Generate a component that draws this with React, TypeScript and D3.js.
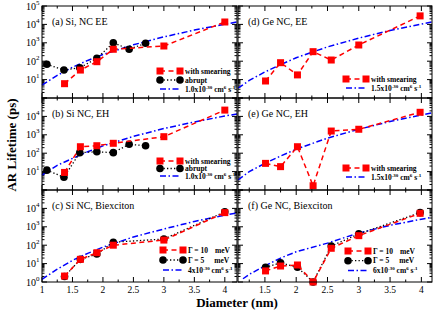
import React from 'react';
import * as d3 from 'd3';

const W = 436;
const H = 312;

// diameters (nm)
const siX = [1.37, 1.63, 1.9, 2.17, 3.0, 4.0];
const siAbruptX = [1.08, 1.36, 1.62, 1.9, 2.17, 2.43, 2.7];
const geX = [1.51, 1.75, 2.02, 2.27, 2.56, 3.0, 3.98];
const siFitX = [1, 1.25, 1.5, 1.75, 2, 2.5, 3, 3.5, 4, 4.2];
const geFitX = [1.07, 1.25, 1.5, 1.75, 2, 2.5, 3, 3.5, 4, 4.17];
const geBxFitX = [1.15, 1.25, 1.5, 1.75, 2, 2.5, 3, 3.5, 4, 4.17];

// AR lifetimes (ps)
const siEESmear = [6, 33, 94, 445, 670, 13500];
const siEEAbrupt = [68, 33, 44, 143, 1000, 445, 940];
const siEEFit = [5, 17, 47, 110, 230, 780, 2100, 4900, 10200, 13500];

const siEHSmear = [9, 225, 255, 345, 790, 22000];
const siEHAbrupt = [12, 4.9, 107, 120, 107, 305, 255];
const siEHFit = [6.5, 22, 52, 120, 250, 820, 2200, 5000, 10500, 13500];

const siBxG10 = [2.1, 17, 39, 100, 190, 5900];
const siBxG5 = [2, 17, 33, 144, 218, 6500];
const siBxFit = [1.4, 5, 15, 36, 78, 280, 760, 1950, 4300, 5600];

const geEESmear = [8.4, 83, 18, 330, 116, 760, 29000];
const geEEFit = [3.4, 9, 26, 65, 155, 600, 1800, 4700, 10500, 13500];

const geEHSmear = [28, 18.6, 225, 1.7, 1600, 2000, 16700];
const geEHFit = [3.5, 10, 28, 70, 166, 660, 2000, 5300, 12000, 15500];

const geBxG10 = [4, 7.4, 8.4, 1.0, 68, 330, 5400];
const geBxG5 = [6.3, 11, 6.3, 1.0, 90, 410, 5900];
const geBxFit = [1.5, 2.6, 7.5, 20, 44, 130, 460, 1200, 2600, 3300];

const leftTicks = [1, 1.5, 2, 2.5, 3, 3.5, 4];
const rightTicks = [1.5, 2, 2.5, 3, 3.5, 4];

const RED = '#ff0000';
const BLUE = '#0000ff';
const FONT = '"Liberation Serif", "DejaVu Serif", serif';

type Series = { kind: 'smear' | 'abrupt' | 'fit'; x: number[]; y: number[] };
type LegendRow = { kind: 'smear' | 'abrupt' | 'fit'; label: React.ReactNode };

const fitLabel = (c: string) => (
  <>
    {c}x10<tspan dy={-3} fontSize={5}>-30</tspan>
    <tspan dy={3}> cm</tspan>
    <tspan dy={-3} fontSize={5}>6</tspan>
    <tspan dy={3}> s</tspan>
    <tspan dy={-3} fontSize={5}>-1</tspan>
  </>
);

const gammaLabel = (g: string) => (
  <>
    Γ = {g}
    <tspan dx={g.length > 1 ? 7 : 10}>meV</tspan>
  </>
);

function Marker({ kind, x, y }: { kind: string; x: number; y: number }) {
  if (kind === 'smear') return <rect x={x - 3.5} y={y - 3.5} width={7} height={7} fill={RED} />;
  if (kind === 'abrupt') return <circle cx={x} cy={y} r={3.8} fill="#000" />;
  return null;
}

const strokeFor = (kind: string) =>
  kind === 'smear'
    ? { stroke: RED, strokeWidth: 1.5, strokeDasharray: '5,3.5' }
    : kind === 'abrupt'
    ? { stroke: '#000', strokeWidth: 1.3, strokeDasharray: '1.3,2.2' }
    : { stroke: BLUE, strokeWidth: 1.5, strokeDasharray: '6,2.5,1.5,2.5' };

function Panel(props: {
  x0: number; x1: number; y0: number; y1: number;
  xDomain: [number, number]; xTicks: number[]; showXLabels: boolean;
  yLabels: number[]; title: string; series: Series[];
  legend: LegendRow[]; legX: number; legY: number; legDy: number;
}) {
  const { x0, x1, y0, y1, xDomain, xTicks, showXLabels, yLabels, title, series, legend, legX, legY, legDy } = props;
  const x = d3.scaleLinear().domain(xDomain).range([x0, x1]);
  const y = d3.scaleLog().domain([1, 1e5]).range([y1, y0]);
  const minor: number[] = [];
  for (let k = 0; k < 5; k++) for (let m = 2; m <= 9; m++) minor.push(m * Math.pow(10, k));
  const xMinor: number[] = [];
  for (let v = 1; v <= xDomain[1] + 1e-9; v += 0.25) if (v >= xDomain[0]) xMinor.push(v);
  const line = d3.line<number>();
  const order = ['fit', 'abrupt', 'smear'];
  const sorted = [...series].sort((a, b) => order.indexOf(a.kind) - order.indexOf(b.kind));

  return (
    <g>
      {/* y ticks, both sides inward */}
      {[0, 1, 2, 3, 4, 5].map((k) => (
        <g key={'M' + k}>
          <line x1={x0} x2={x0 + 5} y1={y(Math.pow(10, k))} y2={y(Math.pow(10, k))} stroke="#000" />
          <line x1={x1} x2={x1 - 5} y1={y(Math.pow(10, k))} y2={y(Math.pow(10, k))} stroke="#000" />
        </g>
      ))}
      {minor.map((v, i) => (
        <g key={'m' + i}>
          <line x1={x0} x2={x0 + 2.5} y1={y(v)} y2={y(v)} stroke="#000" />
          <line x1={x1} x2={x1 - 2.5} y1={y(v)} y2={y(v)} stroke="#000" />
        </g>
      ))}
      {/* x ticks, top and bottom inward */}
      {xMinor.map((v, i) => {
        const major = Math.abs(v * 2 - Math.round(v * 2)) < 1e-6;
        const len = major ? 5 : 2.5;
        return (
          <g key={'x' + i}>
            <line x1={x(v)} x2={x(v)} y1={y1} y2={y1 - len} stroke="#000" />
            <line x1={x(v)} x2={x(v)} y1={y0} y2={y0 + len} stroke="#000" />
          </g>
        );
      })}
      {showXLabels &&
        xTicks.map((v) => (
          <text key={'xl' + v} x={x(v)} y={y1 + 11} textAnchor="middle" fontSize={9.5} fontFamily={FONT}>
            {v}
          </text>
        ))}
      {yLabels.map((k) => (
        <text key={'yl' + k} x={x0 - 2.5} y={y(Math.pow(10, k)) + 3.5} textAnchor="end" fontSize={10} fontFamily={FONT}>
          10<tspan dy={-5} fontSize={7}>{k}</tspan>
        </text>
      ))}
      <text x={x0 + 10} y={y0 + 19} fontSize={10} fontFamily={FONT}>
        {title}
      </text>
      {sorted.map((s, i) => (
        <g key={'s' + i}>
          <path
            d={line(s.x.map((v, j) => [x(v), y(s.y[j])]) as any) || ''}
            fill="none"
            {...strokeFor(s.kind)}
          />
          {s.x.map((v, j) => (
            <Marker key={j} kind={s.kind} x={x(v)} y={y(s.y[j])} />
          ))}
        </g>
      ))}
      {legend.map((r, i) => {
        const ly = legY + i * legDy;
        return (
          <g key={'lg' + i}>
            <line x1={legX} x2={legX + 20} y1={ly} y2={ly} {...strokeFor(r.kind)} />
            <Marker kind={r.kind} x={legX} y={ly} />
            <Marker kind={r.kind} x={legX + 20} y={ly} />
            <text x={legX + 25} y={ly + 2.5} fontSize={7.5} fontWeight="bold" fontFamily={FONT}>
              {r.label}
            </text>
          </g>
        );
      })}
      <rect x={x0} y={y0} width={x1 - x0} height={y1 - y0} fill="none" stroke="#000" strokeWidth={1} />
    </g>
  );
}

export default function App() {
  const rows: [number, number][] = [[6, 98], [98, 190], [190, 282]];
  const L = { x0: 42, x1: 237, xDomain: [1, 4.2] as [number, number], xTicks: leftTicks };
  const R = { x0: 238, x1: 432, xDomain: [1.07, 4.17] as [number, number], xTicks: rightTicks };
  return (
    <svg width={W} height={H} style={{ position: 'absolute', left: 0, top: 0, background: '#fff' }}>
      <rect width={W} height={H} fill="#fff" />
      <Panel
        {...L} y0={rows[0][0]} y1={rows[0][1]} showXLabels={false} yLabels={[1, 2, 3, 4, 5]}
        title="(a) Si, NC EE"
        series={[
          { kind: 'fit', x: siFitX, y: siEEFit },
          { kind: 'abrupt', x: siAbruptX, y: siEEAbrupt },
          { kind: 'smear', x: siX, y: siEESmear },
        ]}
        legend={[
          { kind: 'smear', label: 'with smearing' },
          { kind: 'abrupt', label: 'abrupt' },
          { kind: 'fit', label: fitLabel('1.0') },
        ]}
        legX={160} legY={71} legDy={9}
      />
      <Panel
        {...L} y0={rows[1][0]} y1={rows[1][1]} showXLabels={false} yLabels={[1, 2, 3, 4]}
        title="(b) Si NC, EH"
        series={[
          { kind: 'fit', x: siFitX, y: siEHFit },
          { kind: 'abrupt', x: siAbruptX, y: siEHAbrupt },
          { kind: 'smear', x: siX, y: siEHSmear },
        ]}
        legend={[
          { kind: 'smear', label: 'with smearing' },
          { kind: 'abrupt', label: 'abrupt' },
          { kind: 'fit', label: fitLabel('1.0') },
        ]}
        legX={160} legY={161} legDy={7.5}
      />
      <Panel
        {...L} y0={rows[2][0]} y1={rows[2][1]} showXLabels={true} yLabels={[0, 1, 2, 3, 4]}
        title="(c) Si NC, Biexciton"
        series={[
          { kind: 'fit', x: siFitX, y: siBxFit },
          { kind: 'smear', x: siX, y: siBxG10 },
          { kind: 'abrupt', x: siX, y: siBxG5 },
        ]}
        legend={[
          { kind: 'smear', label: gammaLabel('10') },
          { kind: 'abrupt', label: gammaLabel('5') },
          { kind: 'fit', label: fitLabel('4') },
        ]}
        legX={163} legY={250} legDy={10}
      />
      <Panel
        {...R} y0={rows[0][0]} y1={rows[0][1]} showXLabels={false} yLabels={[]}
        title="(d) Ge NC, EE"
        series={[
          { kind: 'fit', x: geFitX, y: geEEFit },
          { kind: 'smear', x: geX, y: geEESmear },
        ]}
        legend={[
          { kind: 'smear', label: 'with smearing' },
          { kind: 'fit', label: fitLabel('1.5') },
        ]}
        legX={346} legY={79} legDy={9}
      />
      <Panel
        {...R} y0={rows[1][0]} y1={rows[1][1]} showXLabels={false} yLabels={[]}
        title="(e) Ge NC, EH"
        series={[
          { kind: 'fit', x: geFitX, y: geEHFit },
          { kind: 'smear', x: geX, y: geEHSmear },
        ]}
        legend={[
          { kind: 'smear', label: 'with smearing' },
          { kind: 'fit', label: fitLabel('1.5') },
        ]}
        legX={346} legY={168} legDy={9}
      />
      <Panel
        {...R} y0={rows[2][0]} y1={rows[2][1]} showXLabels={true} yLabels={[]}
        title="(f) Ge NC, Biexciton"
        series={[
          { kind: 'fit', x: geBxFitX, y: geBxFit },
          { kind: 'smear', x: geX, y: geBxG10 },
          { kind: 'abrupt', x: geX, y: geBxG5 },
        ]}
        legend={[
          { kind: 'smear', label: gammaLabel('10') },
          { kind: 'abrupt', label: gammaLabel('5') },
          { kind: 'fit', label: fitLabel('6') },
        ]}
        legX={348} legY={251} legDy={9.7}
      />
      <text
        transform="translate(16,145) rotate(-90)"
        textAnchor="middle" fontSize={13} fontWeight="bold" fontFamily={FONT}
      >
        AR Lifetime (ps)
      </text>
      <text x={237} y={307} textAnchor="middle" fontSize={13} fontWeight="bold" fontFamily={FONT}>
        Diameter (nm)
      </text>
    </svg>
  );
}
